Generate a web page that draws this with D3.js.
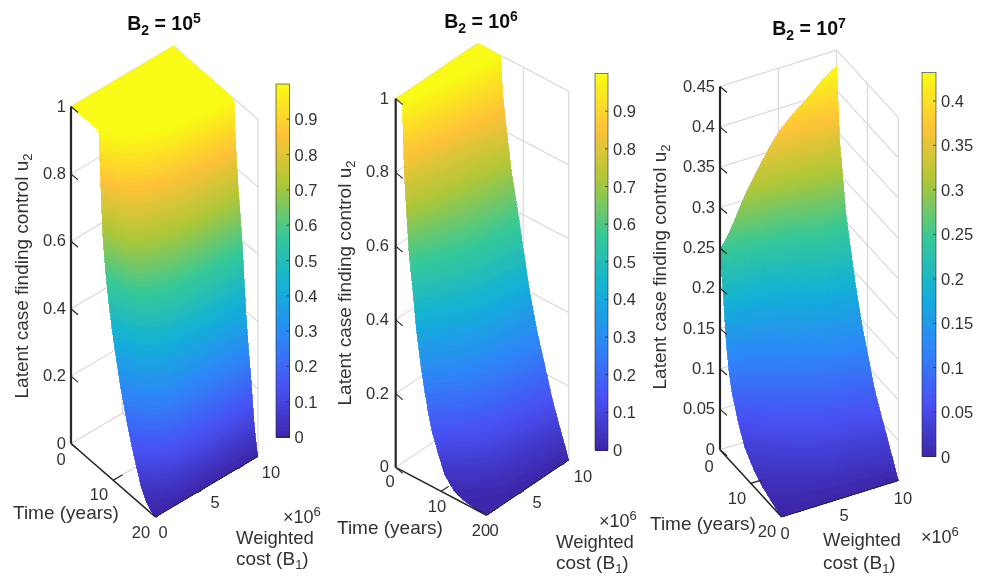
<!DOCTYPE html>
<html><head><meta charset="utf-8">
<script src="https://cdn.jsdelivr.net/npm/d3@7"></script>
<style>html,body{margin:0;padding:0;background:#fff}svg{display:block}text{font-family:"Liberation Sans",Arial,sans-serif;fill:#333}</style>
</head><body><svg id="c" width="983" height="577"></svg>
<script>
// ---- data ----
const costRowsB5 = [0, 1, 2.5, 5, 7.5, 10];        // weighted cost B1 (x10^6)
const costRows = [0, 2.5, 5, 7.5, 10];
const timeTicks = [0, 10, 20];
const costTicks = [0, 5, 10];
const zTicksAB = [0, 0.2, 0.4, 0.6, 0.8, 1];
const zTicksC = [0, 0.05, 0.1, 0.15, 0.2, 0.25, 0.3, 0.35, 0.4, 0.45];
const barTicksAB = [0, 0.1, 0.2, 0.3, 0.4, 0.5, 0.6, 0.7, 0.8, 0.9];
const barTicksC = [0, 0.05, 0.1, 0.15, 0.2, 0.25, 0.3, 0.35, 0.4];

// control level u2 reached at the times tabulated below (panels 1 and 2)
const levels = [1, 1, 0.9, 0.8, 0.7, 0.6, 0.5, 0.4, 0.3, 0.2, 0.15, 0.1, 0.05, 0.02, 0.008, 0.003, 0];
const timesB5 = [
  [0, 6.6, 6.9, 7.2, 7.55, 8.2, 9.1, 10.3, 11.7, 13.4, 14.4, 15.5, 16.7, 17.9, 18.8, 19.4, 20],
  [0, 9.5, 10.5, 11.5, 12.2, 12.9, 13.5, 14.3, 15.2, 16.2, 16.8, 17.4, 18.2, 18.9, 19.4, 19.7, 20],
  [0, 11.5, 12.3, 13, 13.8, 14.7, 15.5, 16.2, 16.9, 17.8, 18.2, 18.7, 19.2, 19.6, 19.8, 19.9, 20],
  [0, 13, 13.6, 14.4, 15, 15.7, 16.3, 16.8, 17.4, 18.2, 18.6, 19, 19.4, 19.7, 19.85, 19.95, 20],
  [0, 13.8, 14.2, 14.7, 15.3, 15.9, 16.5, 17, 17.5, 18.3, 18.6, 19, 19.4, 19.7, 19.85, 19.95, 20],
  [0, 14.3, 14.6, 15, 15.6, 16.2, 16.65, 17.1, 17.7, 18.4, 18.7, 19, 19.4, 19.7, 19.85, 19.95, 20]
];
const timesB6 = [
  [0, 1.5, 1.68, 1.95, 2.45, 2.95, 3.83, 4.6, 5.68, 7.1, 8, 9.3, 10.8, 12.8, 14.8, 17, 20],
  [0, 2.5, 2.75, 3.1, 3.9, 4.9, 6.4, 8, 9.3, 10.9, 12, 13.5, 15.5, 17.3, 18.4, 19.2, 20],
  [0, 3.3, 3.7, 4.1, 5.2, 6.7, 8.3, 10, 11.4, 13, 14, 15.3, 17, 18.3, 19, 19.6, 20],
  [0, 4.2, 4.6, 5.2, 6.3, 7.9, 9.3, 10.9, 12.5, 14.2, 15.2, 16.4, 17.9, 19, 19.5, 19.8, 20],
  [0, 5.05, 5.45, 6.4, 7.4, 8.8, 10.1, 11.4, 13.1, 15.2, 16.2, 17.4, 18.7, 19.5, 19.75, 19.9, 20]
];
// u2 on a regular table of times (panel 3)
const timeGridB7 = [0, 1, 2, 3, 4, 6, 8, 10, 12, 14, 16, 18, 20];
const valuesB7 = [
  [0.249, 0.2, 0.143, 0.107, 0.086, 0.058, 0.037, 0.026, 0.017, 0.011, 0.007, 0.003, 0],
  [0.315, 0.225, 0.172, 0.14, 0.122, 0.095, 0.07, 0.053, 0.038, 0.026, 0.015, 0.007, 0],
  [0.37, 0.272, 0.225, 0.19, 0.165, 0.13, 0.104, 0.08, 0.06, 0.042, 0.027, 0.012, 0],
  [0.402, 0.325, 0.285, 0.255, 0.225, 0.17, 0.128, 0.1, 0.072, 0.05, 0.032, 0.015, 0],
  [0.43, 0.34, 0.3, 0.26, 0.235, 0.187, 0.147, 0.116, 0.085, 0.062, 0.042, 0.021, 0]
];
const parula = ["#3e26a8", "#4852f4", "#2d87f7", "#12b1d6", "#37c897", "#abc739", "#fec338", "#f9fb14"];

// ---- layout ----
const panels = [
  { exp: "5", titleX: 164, titleY: 30, zMax: 1, cMax: 1, zTicks: zTicksAB, barTicks: barTicksAB, fmtLabel: "Latent case finding  control u",
    nB: 5, nK: 8, costs: costRowsB5, rowsT: timesB5, rowsU: timesB5.map(() => levels),
    origin: [71, 443.5], tEnd: [155.5, 517], bEnd: [173.5, 383], zTop: [71, 106.5],
    bar: [276, 84, 13.5, 353], labelRight: 66, yLabel: [22, 276],
    tLabels: [[61, 459], [99, 494], [141, 532]], bLabels: [[163, 532], [215, 502], [271, 472]],
    timeLabel: [13, 512], scale: [283, 517], wLabel: [236, 537], cLabel: [236, 559] },
  { exp: "6", titleX: 481, titleY: 28, zMax: 1, cMax: 1, zTicks: zTicksAB, barTicks: barTicksAB, fmtLabel: "Latent case finding control u",
    nB: 5, nK: 8, costs: costRows, rowsT: timesB6, rowsU: timesB6.map(() => levels),
    origin: [395.7, 467.4], tEnd: [486.7, 515.3], bEnd: [477.7, 412.1], zTop: [395.7, 98.6],
    bar: [595, 73.6, 13, 376.4], labelRight: 389, yLabel: [345, 283],
    tLabels: [[390, 481], [437, 506], [481, 530]], bLabels: [[494, 530], [537, 502], [583, 476]],
    timeLabel: [337, 527], scale: [599, 521], wLabel: [556, 541], cLabel: [556, 563] },
  { exp: "7", titleX: 809, titleY: 35, zMax: 0.45, cMax: 0.432, zTicks: zTicksC, barTicks: barTicksC, fmtLabel: "Latent case finding control u",
    nB: 16, nK: 12, costs: costRows, rowsT: valuesB7.map(() => timeGridB7), rowsU: valuesB7,
    origin: [720, 449.7], tEnd: [781.7, 517], bEnd: [836.6, 413.3], zTop: [720, 86.5],
    bar: [922, 72.5, 14, 384], labelRight: 715, yLabel: [660, 267],
    tLabels: [[709, 466], [737, 498], [767, 531]], bLabels: [[785, 533], [844, 514.5], [903, 498]],
    timeLabel: [650, 523], scale: [921, 537], wLabel: [823, 539], cLabel: [823, 563] }
];

const svg = d3.select("#c");
const defs = svg.append("defs");
defs.append("filter").attr("id", "soft")
  .attr("filterUnits", "userSpaceOnUse").attr("x", 0).attr("y", 0).attr("width", 983).attr("height", 577)
  .append("feGaussianBlur").attr("stdDeviation", 0.45);
const root = svg.append("g").attr("filter", "url(#soft)");
root.append("rect").attr("width", 983).attr("height", 577).attr("fill", "#fff");
const FS = 16.5, LS = 19;
const colorStops = d3.piecewise(d3.interpolateRgb, parula);

function drawPanel(p) {
  const g = root.append("g");
  const tX = d3.scaleLinear([0, 20], [0, p.tEnd[0] - p.origin[0]]);
  const tY = d3.scaleLinear([0, 20], [0, p.tEnd[1] - p.origin[1]]);
  const bX = d3.scaleLinear([0, 10], [0, p.bEnd[0] - p.origin[0]]);
  const bY = d3.scaleLinear([0, 10], [0, p.bEnd[1] - p.origin[1]]);
  const zY = d3.scaleLinear([0, p.zMax], [0, p.zTop[1] - p.origin[1]]);
  const proj = (t, b, z) => [p.origin[0] + tX(t) + bX(b), p.origin[1] + tY(t) + bY(b) + zY(z)];
  const color = d3.scaleLinear([0, p.cMax], [0, 1]).clamp(true);
  const fill = v => colorStops(color(v));
  const seg = (a, b, stroke, w, parent = g) => parent.append("line")
    .attr("x1", a[0]).attr("y1", a[1]).attr("x2", b[0]).attr("y2", b[1])
    .attr("stroke", stroke).attr("stroke-width", w);

  // back walls and floor grid
  const grid = "#d6d6d6";
  p.zTicks.forEach(z => {
    seg(proj(0, 0, z), proj(0, 10, z), grid, 1.1);
    seg(proj(0, 10, z), proj(20, 10, z), grid, 1.1);
  });
  seg(proj(0, 5, 0), proj(0, 5, p.zMax), grid, 1.1);
  seg(proj(0, 10, 0), proj(0, 10, p.zMax), grid, 1.1);
  seg(proj(10, 10, 0), proj(10, 10, p.zMax), grid, 1.1);
  seg(proj(20, 10, 0), proj(20, 10, p.zMax), grid, 1.1);
  seg(proj(10, 0, 0), proj(10, 10, 0), grid, 1.1);
  seg(proj(20, 5, 0), proj(0, 5, 0), grid, 1.1);

  // surface with interpolated shading (Catmull-Rom across the cost rows)
  const { nB, nK } = p;
  const rows = p.rowsT.length, cols = p.rowsT[0].length;
  const lerp = (a, b, f) => a + (b - a) * f;
  const cr = (a, b, c, d, f) => {
    const v = 0.5 * (2 * b + (c - a) * f + (2 * a - 5 * b + 4 * c - d) * f * f + (3 * b - a - 3 * c + d) * f * f * f);
    return Math.min(Math.max(b, c), Math.max(Math.min(b, c), v));
  };
  const across = (M, r, k, fr) => {
    const r0 = Math.max(r - 1, 0), r2 = Math.min(r + 1, rows - 1), r3 = Math.min(r + 2, rows - 1);
    return cr(M[r0][k], M[r][k], M[r2][k], M[r3][k], fr);
  };
  const at = (r, k, fr, fk) => {
    const k1 = Math.min(k + 1, cols - 1);
    const T = lerp(across(p.rowsT, r, k, fr), across(p.rowsT, r, k1, fr), fk);
    const U = lerp(across(p.rowsU, r, k, fr), across(p.rowsU, r, k1, fr), fk);
    const B = lerp(p.costs[r], p.costs[Math.min(r + 1, rows - 1)], fr);
    return { T, U, B };
  };
  const cells = [];
  for (let k = 0; k < cols - 1; k++) for (let r = 0; r < rows - 1; r++)
    for (let i = 0; i < nK; i++) for (let j = 0; j < nB; j++) {
      cells.push([at(r, k, j / nB, i / nK), at(r, k, (j + 1) / nB, i / nK),
                  at(r, k, (j + 1) / nB, (i + 1) / nK), at(r, k, j / nB, (i + 1) / nK)]);
    }
  g.append("g").attr("shape-rendering", "crispEdges").selectAll("path").data(cells).join("path")
    .attr("d", c => "M" + c.map(q => proj(q.T, q.B, q.U).map(v => v.toFixed(2)).join(",")).join("L") + "Z")
    .attr("fill", c => fill(d3.mean(c, q => q.U)))
    .attr("stroke", c => fill(d3.mean(c, q => q.U)))
    .attr("stroke-width", 0.8);

  // axes
  const ink = "#262626";
  seg(p.origin, p.zTop, ink, 2.2);
  seg(p.origin, p.tEnd, ink, 1.6);
  seg(p.tEnd, proj(20, 10, 0), ink, 1);
  p.zTicks.forEach(z => {
    const a = proj(0, 0, z);
    seg(a, [a[0] + 7, a[1] + 6], ink, 1.2);
  });
  timeTicks.slice(1, 2).forEach(t => seg(proj(t, 0, 0), proj(t, 0.9, 0), ink, 1.2));

  // tick labels
  const txt = (x, y, s, anchor = "start", size = FS) => g.append("text").attr("x", x).attr("y", y)
    .attr("text-anchor", anchor).attr("font-size", size).attr("dominant-baseline", "central").text(s);
  p.zTicks.forEach(z => txt(p.labelRight, proj(0, 0, z)[1] - 1, String(z), "end"));
  timeTicks.forEach((t, i) => txt(p.tLabels[i][0], p.tLabels[i][1], String(t), "middle"));
  costTicks.forEach((b, i) => txt(p.bLabels[i][0], p.bLabels[i][1], String(b), "middle"));

  // axis titles
  const yl = g.append("text").attr("transform", `translate(${p.yLabel[0] + 6},${p.yLabel[1]}) rotate(-90)`)
    .attr("text-anchor", "middle").attr("font-size", LS);
  yl.append("tspan").text(p.fmtLabel);
  yl.append("tspan").attr("font-size", 13).attr("dy", 4).text("2");
  txt(p.timeLabel[0], p.timeLabel[1], "Time (years)", "start", LS);
  txt(p.wLabel[0], p.wLabel[1], "Weighted", "start", 18.5);
  const cl = g.append("text").attr("x", p.cLabel[0]).attr("y", p.cLabel[1] + 6).attr("font-size", LS);
  cl.append("tspan").text("cost (B");
  cl.append("tspan").attr("font-size", 13).attr("dy", 4).text("1");
  cl.append("tspan").attr("dy", -4).text(")");
  const sc = g.append("text").attr("x", p.scale[0]).attr("y", p.scale[1] + 6).attr("font-size", 18);
  sc.append("tspan").text("\u00d710");
  sc.append("tspan").attr("font-size", 13).attr("dy", -7).text("6");

  // title
  const ti = g.append("text").attr("x", p.titleX).attr("y", p.titleY).attr("text-anchor", "middle")
    .attr("font-size", 19.5).attr("font-weight", "bold").style("fill", "#111");
  ti.append("tspan").text("B");
  ti.append("tspan").attr("font-size", 14).attr("dy", 5).text("2");
  ti.append("tspan").attr("dy", -5).text(" = 10");
  ti.append("tspan").attr("font-size", 14).attr("dy", -7).text(p.exp);

  // colorbar
  const [bx, by, bw, bh] = p.bar;
  const barY = d3.scaleLinear([0, p.cMax], [by + bh, by]);
  const steps = d3.range(0, 200);
  g.append("g").attr("shape-rendering", "crispEdges").selectAll("rect").data(steps).join("rect")
    .attr("x", bx).attr("width", bw)
    .attr("y", i => barY((i + 1) / 200 * p.cMax))
    .attr("height", bh / 200 + 0.6)
    .attr("fill", i => fill((i + 0.5) / 200 * p.cMax));
  g.append("rect").attr("x", bx).attr("y", by).attr("width", bw).attr("height", bh)
    .attr("fill", "none").attr("stroke", ink).attr("stroke-width", 0.6);
  p.barTicks.forEach(v => {
    const y = barY(v);
    seg([bx + bw - 3, y], [bx + bw, y], ink, 0.7);
    txt(bx + bw + 5, y, String(v), "start");
  });
}
panels.forEach(drawPanel);
</script></body></html>
